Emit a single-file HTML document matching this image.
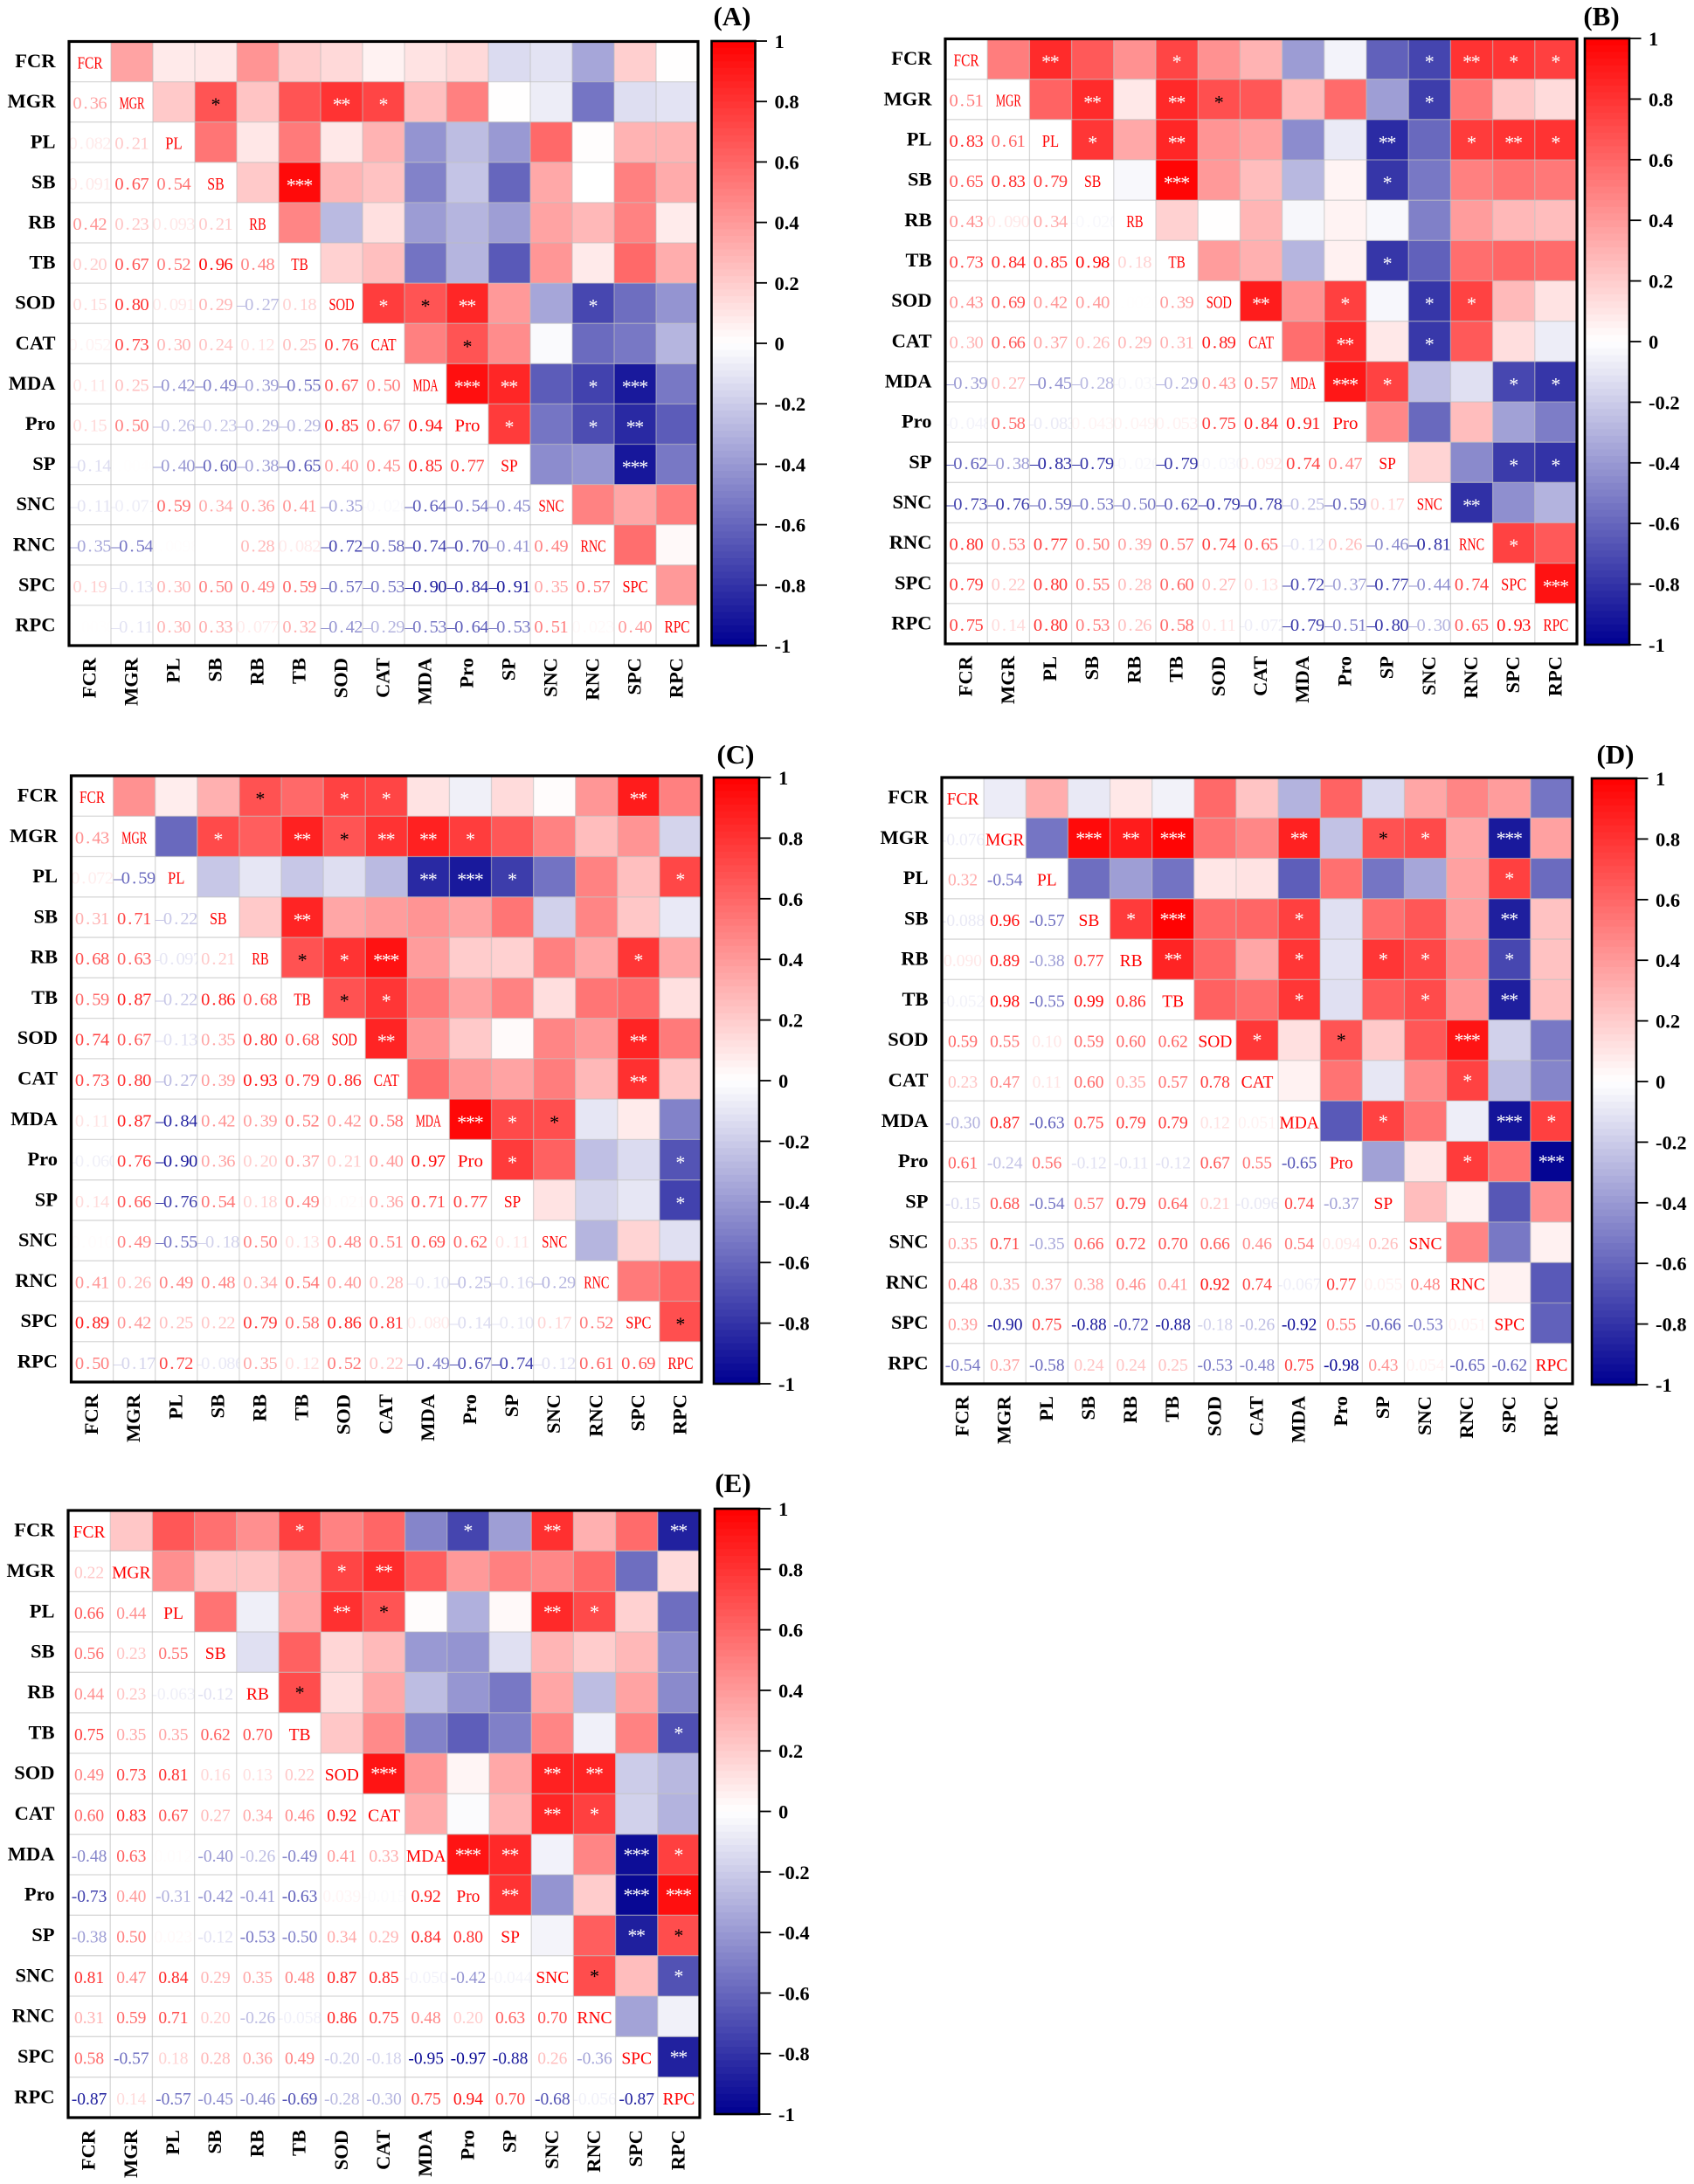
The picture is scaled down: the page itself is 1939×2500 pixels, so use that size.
<!DOCTYPE html>
<html lang="en">
<head>
<meta charset="utf-8">
<title>Correlation heatmaps</title>
<style>
html,body{margin:0;padding:0;background:#fff;}
#figure{display:block;width:1939px;height:2500px;font-family:"Liberation Serif",serif;}
</style>
</head>
<body>
<svg id="figure" xmlns="http://www.w3.org/2000/svg" width="1939" height="2500" viewBox="0 0 1939 2500"></svg>
<script>
const variables = ['FCR','MGR','PL','SB','RB','TB','SOD','CAT','MDA','Pro','SP','SNC','RNC','SPC','RPC'];
const colorbarTicks = [1,0.8,0.6,0.4,0.2,0,-0.2,-0.4,-0.6,-0.8,-1];

const corrA = [
[0.36],
[0.082,0.21],
[0.091,0.67,0.54],
[0.42,0.23,0.093,0.21],
[0.20,0.67,0.52,0.96,0.48],
[0.15,0.80,0.091,0.29,-0.27,0.18],
[0.052,0.73,0.30,0.24,0.12,0.25,0.76],
[0.11,0.25,-0.42,-0.49,-0.39,-0.55,0.67,0.50],
[0.15,0.50,-0.26,-0.23,-0.29,-0.29,0.85,0.67,0.94],
[-0.14,0.004,-0.40,-0.60,-0.38,-0.65,0.40,0.45,0.85,0.77],
[-0.11,-0.071,0.59,0.34,0.36,0.41,-0.35,-0.020,-0.64,-0.54,-0.45],
[-0.35,-0.54,0.0098,0.00035,0.28,0.082,-0.72,-0.58,-0.74,-0.70,-0.41,0.49],
[0.19,-0.13,0.30,0.50,0.49,0.59,-0.57,-0.53,-0.90,-0.84,-0.91,0.35,0.57],
[0.003,-0.11,0.30,0.33,0.077,0.32,-0.42,-0.29,-0.53,-0.64,-0.53,0.51,0.023,0.40]
];
const starsA = [['MGR','SB',1],['MGR','SOD',2],['MGR','CAT',1],['SB','TB',3],['SOD','CAT',1],['SOD','MDA',1],['SOD','Pro',2],['SOD','RNC',1],['CAT','Pro',1],['MDA','Pro',3],['MDA','SP',2],['MDA','RNC',1],['MDA','SPC',3],['Pro','SP',1],['Pro','RNC',1],['Pro','SPC',2],['SP','SPC',3]];

const corrB = [
[0.51],
[0.83,0.61],
[0.65,0.83,0.79],
[0.43,0.090,0.34,-0.026],
[0.73,0.84,0.85,0.98,0.18],
[0.43,0.69,0.42,0.40,0.002,0.39],
[0.30,0.66,0.37,0.26,0.29,0.31,0.89],
[-0.39,0.27,-0.45,-0.28,-0.033,-0.29,0.43,0.57],
[-0.048,0.58,-0.083,0.043,0.049,0.053,0.75,0.84,0.91],
[-0.62,-0.38,-0.83,-0.79,-0.026,-0.79,-0.030,0.092,0.74,0.47],
[-0.73,-0.76,-0.59,-0.53,-0.50,-0.62,-0.79,-0.78,-0.25,-0.59,0.17],
[0.80,0.53,0.77,0.50,0.39,0.57,0.74,0.65,-0.12,0.26,-0.46,-0.81],
[0.79,0.22,0.80,0.55,0.28,0.60,0.27,0.13,-0.72,-0.37,-0.77,-0.44,0.74],
[0.75,0.14,0.80,0.53,0.26,0.58,0.11,-0.072,-0.79,-0.51,-0.80,-0.30,0.65,0.93]
];
const starsB = [['FCR','PL',2],['FCR','TB',1],['FCR','SNC',1],['FCR','RNC',2],['FCR','SPC',1],['FCR','RPC',1],['MGR','SB',2],['MGR','TB',2],['MGR','SOD',1],['MGR','SNC',1],['PL','SB',1],['PL','TB',2],['PL','SP',2],['PL','RNC',1],['PL','SPC',2],['PL','RPC',1],['SB','TB',3],['SB','SP',1],['TB','SP',1],['SOD','CAT',2],['SOD','Pro',1],['SOD','SNC',1],['SOD','RNC',1],['CAT','Pro',2],['CAT','SNC',1],['MDA','Pro',3],['MDA','SP',1],['MDA','SPC',1],['MDA','RPC',1],['SP','SPC',1],['SP','RPC',1],['SNC','RNC',2],['RNC','SPC',1],['SPC','RPC',3]];

const corrC = [
[0.43],
[0.072,-0.59],
[0.31,0.71,-0.22],
[0.68,0.63,-0.097,0.21],
[0.59,0.87,-0.22,0.86,0.68],
[0.74,0.67,-0.13,0.35,0.80,0.68],
[0.73,0.80,-0.27,0.39,0.93,0.79,0.86],
[0.11,0.87,-0.84,0.42,0.39,0.52,0.42,0.58],
[-0.060,0.76,-0.90,0.36,0.20,0.37,0.21,0.40,0.97],
[0.14,0.66,-0.76,0.54,0.18,0.49,0.021,0.36,0.71,0.77],
[0.010,0.49,-0.55,-0.18,0.50,0.13,0.48,0.51,0.69,0.62,0.11],
[0.41,0.26,0.49,0.48,0.34,0.54,0.40,0.28,-0.10,-0.25,-0.16,-0.29],
[0.89,0.42,0.25,0.22,0.79,0.58,0.86,0.81,0.080,-0.14,-0.10,0.17,0.52],
[0.50,-0.17,0.72,-0.086,0.35,0.12,0.52,0.22,-0.49,-0.67,-0.74,-0.12,0.61,0.69]
];
const starsC = [['FCR','RB',1],['FCR','SOD',1],['FCR','CAT',1],['FCR','SPC',2],['MGR','SB',1],['MGR','TB',2],['MGR','SOD',1],['MGR','CAT',2],['MGR','MDA',2],['MGR','Pro',1],['PL','MDA',2],['PL','Pro',3],['PL','SP',1],['PL','RPC',1],['SB','TB',2],['RB','TB',1],['RB','SOD',1],['RB','CAT',3],['RB','SPC',1],['TB','SOD',1],['TB','CAT',1],['SOD','CAT',2],['SOD','SPC',2],['CAT','SPC',2],['MDA','Pro',3],['MDA','SP',1],['MDA','SNC',1],['Pro','SP',1],['Pro','RPC',1],['SP','RPC',1],['SPC','RPC',1]];

const corrD = [
[-0.076],
[0.32,-0.54],
[-0.088,0.96,-0.57],
[0.090,0.89,-0.38,0.77],
[-0.052,0.98,-0.55,0.99,0.86],
[0.59,0.55,0.10,0.59,0.60,0.62],
[0.23,0.47,0.11,0.60,0.35,0.57,0.78],
[-0.30,0.87,-0.63,0.75,0.79,0.79,0.12,0.051],
[0.61,-0.24,0.56,-0.12,-0.11,-0.12,0.67,0.55,-0.65],
[-0.15,0.68,-0.54,0.57,0.79,0.64,0.21,-0.096,0.74,-0.37],
[0.35,0.71,-0.35,0.66,0.72,0.704,0.66,0.46,0.54,0.094,0.26],
[0.48,0.35,0.37,0.38,0.46,0.41,0.92,0.74,-0.067,0.77,0.055,0.48],
[0.39,-0.90,0.75,-0.88,-0.72,-0.88,-0.18,-0.26,-0.92,0.55,-0.66,-0.53,0.051],
[-0.54,0.37,-0.58,0.24,0.24,0.25,-0.53,-0.48,0.75,-0.98,0.43,0.054,-0.65,-0.62]
];
const starsD = [['MGR','SB',3],['MGR','RB',2],['MGR','TB',3],['MGR','MDA',2],['MGR','SP',1],['MGR','SNC',1],['MGR','SPC',3],['PL','SPC',1],['SB','RB',1],['SB','TB',3],['SB','MDA',1],['SB','SPC',2],['RB','TB',2],['RB','MDA',1],['RB','SP',1],['RB','SNC',1],['RB','SPC',1],['TB','MDA',1],['TB','SNC',1],['TB','SPC',2],['SOD','CAT',1],['SOD','Pro',1],['SOD','RNC',3],['CAT','RNC',1],['MDA','SP',1],['MDA','SPC',3],['MDA','RPC',1],['Pro','RNC',1],['Pro','RPC',3]];

const corrE = [
[0.22],
[0.66,0.44],
[0.56,0.23,0.55],
[0.44,0.23,-0.063,-0.12],
[0.75,0.35,0.35,0.62,0.70],
[0.49,0.73,0.81,0.16,0.13,0.22],
[0.60,0.83,0.67,0.27,0.34,0.46,0.92],
[-0.48,0.63,0.012,-0.40,-0.26,-0.49,0.41,0.33],
[-0.73,0.40,-0.31,-0.42,-0.41,-0.63,0.039,-0.015,0.92],
[-0.38,0.50,0.023,-0.12,-0.53,-0.50,0.34,0.29,0.84,0.80],
[0.81,0.47,0.84,0.29,0.35,0.48,0.87,0.85,-0.050,-0.42,-0.044],
[0.31,0.59,0.71,0.20,-0.26,-0.058,0.86,0.75,0.48,0.20,0.63,0.70],
[0.58,-0.57,0.18,0.28,0.36,0.49,-0.20,-0.18,-0.95,-0.97,-0.88,0.26,-0.36],
[-0.87,0.14,-0.57,-0.45,-0.46,-0.69,-0.28,-0.30,0.75,0.94,0.70,-0.68,-0.056,-0.87]
];
const starsE = [['FCR','TB',1],['FCR','Pro',1],['FCR','SNC',2],['FCR','RPC',2],['MGR','SOD',1],['MGR','CAT',2],['PL','SOD',2],['PL','CAT',1],['PL','SNC',2],['PL','RNC',1],['RB','TB',1],['TB','RPC',1],['SOD','CAT',3],['SOD','SNC',2],['SOD','RNC',2],['CAT','SNC',2],['CAT','RNC',1],['MDA','Pro',3],['MDA','SP',2],['MDA','SPC',3],['MDA','RPC',1],['Pro','SP',2],['Pro','SPC',3],['Pro','RPC',3],['SP','SPC',2],['SP','RPC',1],['SNC','RNC',1],['SNC','RPC',1],['SPC','RPC',2]];

const panels = [
  {id:'a',title:'(A)',corr:corrA,stars:starsA,mono:true, x0:79,  x1:799, y0:47.5,y1:739, bx0:814.5,bx1:864.5,by0:47,  by1:739, tx:838, ty:29,  starDy:0},
  {id:'b',title:'(B)',corr:corrB,stars:starsB,mono:true, x0:1082,x1:1805,y0:44.5,y1:737, bx0:1814, bx1:1865, by0:44,  by1:738, tx:1833,ty:29,  starDy:0},
  {id:'c',title:'(C)',corr:corrC,stars:starsC,mono:true, x0:81.5,x1:803, y0:888, y1:1582,bx0:817,  bx1:869,  by0:890, by1:1584,tx:842, ty:874, starDy:0},
  {id:'d',title:'(D)',corr:corrD,stars:starsD,mono:false,x0:1078,x1:1800,y0:890, y1:1584,bx0:1822, bx1:1873, by0:891, by1:1585,tx:1849,ty:874, starDy:-3},
  {id:'e',title:'(E)',corr:corrE,stars:starsE,mono:false,x0:78,  x1:801, y0:1729,y1:2424,bx0:818,  bx1:869,  by0:1727,by1:2420,tx:839, ty:1708,starDy:-3}
];

const SVG_NS = 'http://www.w3.org/2000/svg';
const root = document.getElementById('figure');

function make(tag, attrs, parent) {
  const node = document.createElementNS(SVG_NS, tag);
  for (const key in attrs) node.setAttribute(key, attrs[key]);
  parent.appendChild(node);
  return node;
}

function colorScale(v) {
  const t = Math.max(-1, Math.min(1, v));
  if (t >= 0) {
    const c = Math.round(255 * (1 - t));
    return 'rgb(255,' + c + ',' + c + ')';
  }
  const a = -t;
  const c = Math.round(255 * (1 - a));
  const b = Math.round(255 - (255 - 145) * a);
  return 'rgb(' + c + ',' + c + ',' + b + ')';
}

function starColor(v) {
  if (v < 0) return '#ffffff';
  return v > 0.702 ? '#ffffff' : '#000000';
}

function formatValue(v, mono) {
  const abs = Math.abs(v);
  let s;
  if (abs >= 0.1) s = v.toFixed(2);
  else if (abs >= 0.001) s = v.toPrecision(2);
  else s = v.toExponential(1).toUpperCase();
  if (mono && s.charAt(0) === '-') s = '\u2013' + s.slice(1);
  return s;
}

function correlation(matrix, i, j) {
  const hi = Math.max(i, j);
  const lo = Math.min(i, j);
  return matrix[hi - 1][lo];
}

const MONO_ADVANCE = 9.7;

function monoPositions(text, cx) {
  const start = cx - (text.length * MONO_ADVANCE) / 2;
  const list = [];
  for (let k = 0; k < text.length; k++) list.push((start + (k + 0.5) * MONO_ADVANCE).toFixed(1));
  return list.join(' ');
}

function drawPanel(p) {
  const n = variables.length;
  const group = make('g', {}, root);
  
  
  const cw = (p.x1 - p.x0) / n;
  const ch = (p.y1 - p.y0) / n;
  const xScale = function (j) { return p.x0 + j * cw; };
  const yScale = function (i) { return p.y0 + i * ch; };

  const starLookup = {};
  p.stars.forEach(function (s) { starLookup[s[0] + '|' + s[1]] = s[2]; });

  for (let i = 0; i < n; i++) {
    for (let j = 0; j < n; j++) {
      const cellX = xScale(j);
      const cellY = yScale(i);
      const cx = cw / 2;
      const cy = ch / 2;
      if (j > i) {
        const val = correlation(p.corr, i, j);
        const rect = make('rect', {x: cellX, y: cellY, width: cw, height: ch, fill: colorScale(val)}, group);
        
        
        const count = starLookup[variables[i] + '|' + variables[j]];
        if (count) {
          const star = make('text', {
            x: monoPositions('*'.repeat(count), cellX + cx),
            y: cellY + cy + 10.5 + p.starDy,
            'text-anchor': 'middle',
            'font-size': 22,
            fill: starColor(val)
          }, group);
          star.textContent = '*'.repeat(count);
          
          
        }
      } else {
        const holder = make('svg', {x: cellX, y: cellY, width: cw, height: ch, viewBox: '0 0 ' + cw + ' ' + ch}, group);
        
        
        if (i === j) {
          const text = variables[i];
          const attrs = {x: cx, y: cy + 8, 'text-anchor': 'middle', fill: colorScale(1)};
          if (p.mono) {
            attrs['font-size'] = 20.5;
            attrs.textLength = text.length * MONO_ADVANCE;
            attrs.lengthAdjust = 'spacingAndGlyphs';
          } else {
            attrs['font-size'] = 19.5;
          }
          const label = make('text', attrs, holder);
          label.textContent = text;
          
          
        } else {
          const val = correlation(p.corr, i, j);
          const text = formatValue(val, p.mono);
          const attrs = {y: cy + 8, fill: colorScale(val), 'text-anchor': 'middle'};
          if (p.mono) {
            attrs.x = monoPositions(text, cx);
            attrs['font-size'] = 20.5;
          } else {
            attrs.x = cx;
            attrs['font-size'] = 19.5;
          }
          const label = make('text', attrs, holder);
          label.textContent = text;
          
          
        }
      }
    }
  }

  for (let k = 1; k < n; k++) {
    const vLine = make('line', {x1: xScale(k), x2: xScale(k), y1: p.y0, y2: p.y1, stroke: 'rgba(190,190,190,0.6)', 'stroke-width': 1.3}, group);
    
    
    const hLine = make('line', {x1: p.x0, x2: p.x1, y1: yScale(k), y2: yScale(k), stroke: 'rgba(190,190,190,0.6)', 'stroke-width': 1.3}, group);
    
    
  }

  const frame = make('rect', {x: p.x0, y: p.y0, width: p.x1 - p.x0, height: p.y1 - p.y0, fill: 'none', stroke: '#000', 'stroke-width': 3.2}, group);
  
  

  variables.forEach(function (name, i) {
    const rowLabel = make('text', {x: p.x0 - 15.5, y: yScale(i) + ch / 2 + 6.5, 'text-anchor': 'end', 'font-size': 22.5, 'font-weight': 'bold', fill: '#000'}, group);
    rowLabel.textContent = name;
    
    
    const lx = xScale(i) + cw / 2 + 6.5;
    const ly = p.y1 + 14;
    const colLabel = make('text', {x: lx, y: ly, transform: 'rotate(-90 ' + lx + ' ' + ly + ')', 'text-anchor': 'end', 'font-size': 22.5, 'font-weight': 'bold', fill: '#000'}, group);
    colLabel.textContent = name;
    
    
  });

  const title = make('text', {x: p.tx, y: p.ty, 'text-anchor': 'middle', 'font-size': 31, 'font-weight': 'bold', fill: '#000'}, group);
  title.textContent = p.title;
  
  

  const bar = make('g', {}, group);
  
  
  const barScale = function (v) { return p.by0 + (1 - v) / 2 * (p.by1 - p.by0); };
  const bands = 90;
  for (let b = 0; b < bands; b++) {
    const top = 1 - 2 * b / bands;
    const bottom = 1 - 2 * (b + 1) / bands;
    const band = make('rect', {x: p.bx0, y: barScale(top), width: p.bx1 - p.bx0, height: barScale(bottom) - barScale(top) + 0.6, fill: colorScale((top + bottom) / 2)}, bar);
    
    
  }
  const barFrame = make('rect', {x: p.bx0, y: p.by0, width: p.bx1 - p.bx0, height: p.by1 - p.by0, fill: 'none', stroke: '#000', 'stroke-width': 2.6}, bar);
  
  
  colorbarTicks.forEach(function (v) {
    const ty = barScale(v);
    const tick = make('line', {x1: p.bx1, x2: p.bx1 + 13.5, y1: ty, y2: ty, stroke: '#000', 'stroke-width': 1.8}, bar);
    
    
    const tickLabel = make('text', {x: p.bx1 + 22, y: ty + 8, 'font-size': 22.5, 'font-weight': 'bold', fill: '#000'}, bar);
    tickLabel.textContent = String(v);
    
    
  });
}

panels.forEach(drawPanel);
</script>
</body>
</html>
